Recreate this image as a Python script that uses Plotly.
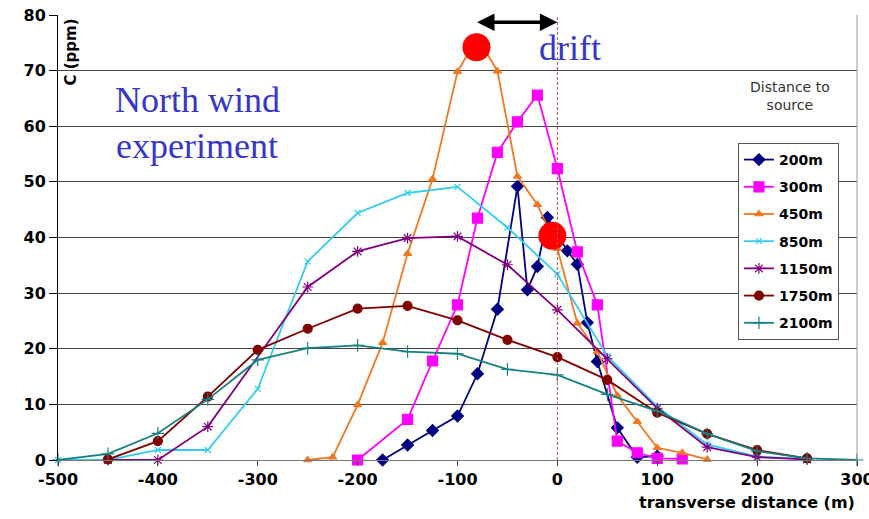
import plotly.graph_objects as go

# ---------------- data ----------------
x_200 = [-175, -150, -125, -100, -80, -60, -40, -30, -20, -10, 10, 20, 30, 40, 60, 80, 100]
c_200 = [0, 2.7, 5.3, 7.9, 15.5, 27.1, 49.2, 30.6, 34.8, 43.6, 37.6, 35.2, 24.7, 17.7, 5.8, 0.5, 0.7]

x_300 = [-200, -150, -125, -100, -80, -60, -40, -20, 0, 20, 40, 60, 80, 100, 125]
c_300 = [0, 7.3, 17.8, 27.9, 43.5, 55.3, 60.8, 65.6, 52.4, 37.4, 27.9, 3.4, 1.3, 0.3, 0.2]

x_450 = [-250, -225, -200, -175, -150, -125, -100, -80, -60, -40, -20, 0, 20, 40, 60, 80, 100, 125, 150]
c_450 = [0, 0.5, 9.9, 21.1, 37.1, 50.5, 69.8, 76, 69.9, 51.0, 45.9, 38, 24.6, 19.5, 11.6, 6.9, 2.2, 1.3, 0.1]

x_850 = [-500, -450, -400, -350, -300, -250, -200, -150, -100, -50, 0, 50, 100, 150, 200, 250]
c_850 = [0, 0, 1.8, 1.8, 12.8, 35.7, 44.4, 48.0, 49.1, 41.8, 33.4, 18.7, 9.6, 2.8, 0.6, 0.2]

x_1150 = [-450, -400, -350, -250, -200, -150, -100, -50, 0, 50, 100, 150, 200, 250]
c_1150 = [0, 0, 6.0, 31.1, 37.5, 39.9, 40.2, 35.1, 27.0, 18.2, 9.3, 2.3, 0.5, 0.1]

x_1750 = [-450, -400, -350, -300, -250, -200, -150, -100, -50, 0, 50, 100, 150, 200, 250]
c_1750 = [0.1, 3.4, 11.4, 19.8, 23.6, 27.2, 27.7, 25.1, 21.6, 18.5, 14.4, 8.5, 4.7, 1.8, 0.3]

x_2100 = [-500, -450, -400, -350, -300, -250, -200, -150, -100, -50, 0, 50, 100, 150, 200, 250, 300]
c_2100 = [0, 1.1, 4.8, 10.9, 18.0, 20.1, 20.6, 19.5, 19.1, 16.3, 15.3, 11.8, 8.8, 4.7, 1.6, 0.3, 0]

series_names = ["200m", "300m", "450m", "850m", "1150m", "1750m", "2100m"]

# highlighted peaks (red dots) and drift arrow
highlight_x = [-81, -5]
highlight_y = [74.2, 40.3]
drift_from = -82
drift_to = 0
drift_level = 78.7

x_ticks = [-500, -400, -300, -200, -100, 0, 100, 200, 300]
y_ticks = [0, 10, 20, 30, 40, 50, 60, 70, 80]

# ---------------- styles ----------------
styles = [
    dict(color="#000080", symbol="diamond", size=9),
    dict(color="#FF00FF", symbol="square", size=10),
    dict(color="#F07820", symbol="triangle-up", size=7),
    dict(color="#33CCEE", symbol="x-thin-open", size=6),
    dict(color="#800080", symbol="asterisk-open", size=9),
    dict(color="#800000", symbol="circle", size=9),
    dict(color="#178080", symbol="cross-thin-open", size=9),
]
xs = [x_200, x_300, x_450, x_850, x_1150, x_1750, x_2100]
cs = [c_200, c_300, c_450, c_850, c_1150, c_1750, c_2100]

FONT_B = "DejaVu Sans"

fig = go.Figure()
for name, x, c, st in zip(series_names, xs, cs, styles):
    fig.add_trace(go.Scatter(
        x=x, y=c, mode="lines+markers", name=name, legendgroup=name,
        line=dict(color=st["color"], width=1.8),
        marker=dict(color=st["color"], symbol=st["symbol"], size=st["size"],
                    line=dict(color=st["color"], width=1.2)),
        cliponaxis=False,
    ))

fig.add_trace(go.Scatter(
    x=highlight_x, y=highlight_y, mode="markers", showlegend=False,
    marker=dict(color="#FF0000", size=28, line=dict(width=0)),
    cliponaxis=False,
))

# dashed source line at x=0
fig.add_shape(type="line", xref="x", yref="paper", x0=0, x1=0, y0=0, y1=1,
              line=dict(color="#C05050", width=1, dash="3px,2px"))
# right border
fig.add_shape(type="line", xref="paper", yref="paper", x0=1, x1=1, y0=0, y1=1,
              line=dict(color="#9A9A9A", width=1))

# drift arrow
fig.add_annotation(x=drift_to, y=drift_level, ax=drift_from, ay=drift_level,
                   xref="x", yref="y", axref="x", ayref="y", text="",
                   showarrow=True, arrowhead=2, arrowside="end+start",
                   arrowsize=1, arrowwidth=3.5, arrowcolor="#000000")

blue = "#3636C8"
fig.add_annotation(x=13, y=74.1, xref="x", yref="y", text="drift", showarrow=False,
                   font=dict(family="Liberation Serif", size=36, color=blue))
fig.add_annotation(x=-360, y=64.7, xref="x", yref="y", text="North wind", showarrow=False,
                   font=dict(family="Liberation Serif", size=36, color=blue))
fig.add_annotation(x=-361, y=56.4, xref="x", yref="y", text="experiment", showarrow=False,
                   font=dict(family="Liberation Serif", size=36, color=blue))
fig.add_annotation(x=233, y=65.4, xref="x", yref="y", text="Distance to<br>source",
                   showarrow=False, align="center",
                   font=dict(family="DejaVu Sans", size=14, color="#333333"))
fig.add_annotation(x=0.0175, y=0.918, xref="paper", yref="paper", text="C (ppm)",
                   xanchor="center", yanchor="middle",
                   textangle=-90, showarrow=False,
                   font=dict(family=FONT_B, size=15, color="#000000", weight="bold"))
fig.add_annotation(x=1, y=-0.095, xref="paper", yref="paper", text="transverse distance (m)",
                   xanchor="right", yanchor="middle", showarrow=False,
                   font=dict(family=FONT_B, size=16, color="#000000", weight="bold"))

fig.update_layout(
    width=869, height=519,
    margin=dict(l=58, r=12, t=15, b=59, autoexpand=False),
    paper_bgcolor="white", plot_bgcolor="white",
    showlegend=True,
    legend=dict(x=0.851, y=0.7124, xanchor="left", yanchor="top",
                bgcolor="white", bordercolor="#555555", borderwidth=1,
                font=dict(family=FONT_B, size=14, color="#000000", weight="bold"),
                tracegroupgap=6, traceorder="grouped"),
    xaxis=dict(range=[-500, 300], tickvals=x_ticks, ticktext=[str(v) for v in x_ticks],
               automargin=False, ticklabeloverflow="allow",
               showgrid=False, zeroline=False, showline=True, linecolor="#777777",
               linewidth=1, ticks="outside", ticklen=5, tickcolor="#444444",
               tickfont=dict(family=FONT_B, size=16, color="#000000", weight="bold")),
    yaxis=dict(range=[0, 80], tickvals=y_ticks, automargin=False,
               ticklabeloverflow="allow",
               showgrid=True, gridcolor="#444444",
               gridwidth=1, zeroline=False, showline=True, linecolor="#000000",
               linewidth=1, ticks="outside", ticklen=8, tickcolor="#000000",
               tickfont=dict(family=FONT_B, size=16, color="#000000", weight="bold")),
)

fig.write_html("out.html")
